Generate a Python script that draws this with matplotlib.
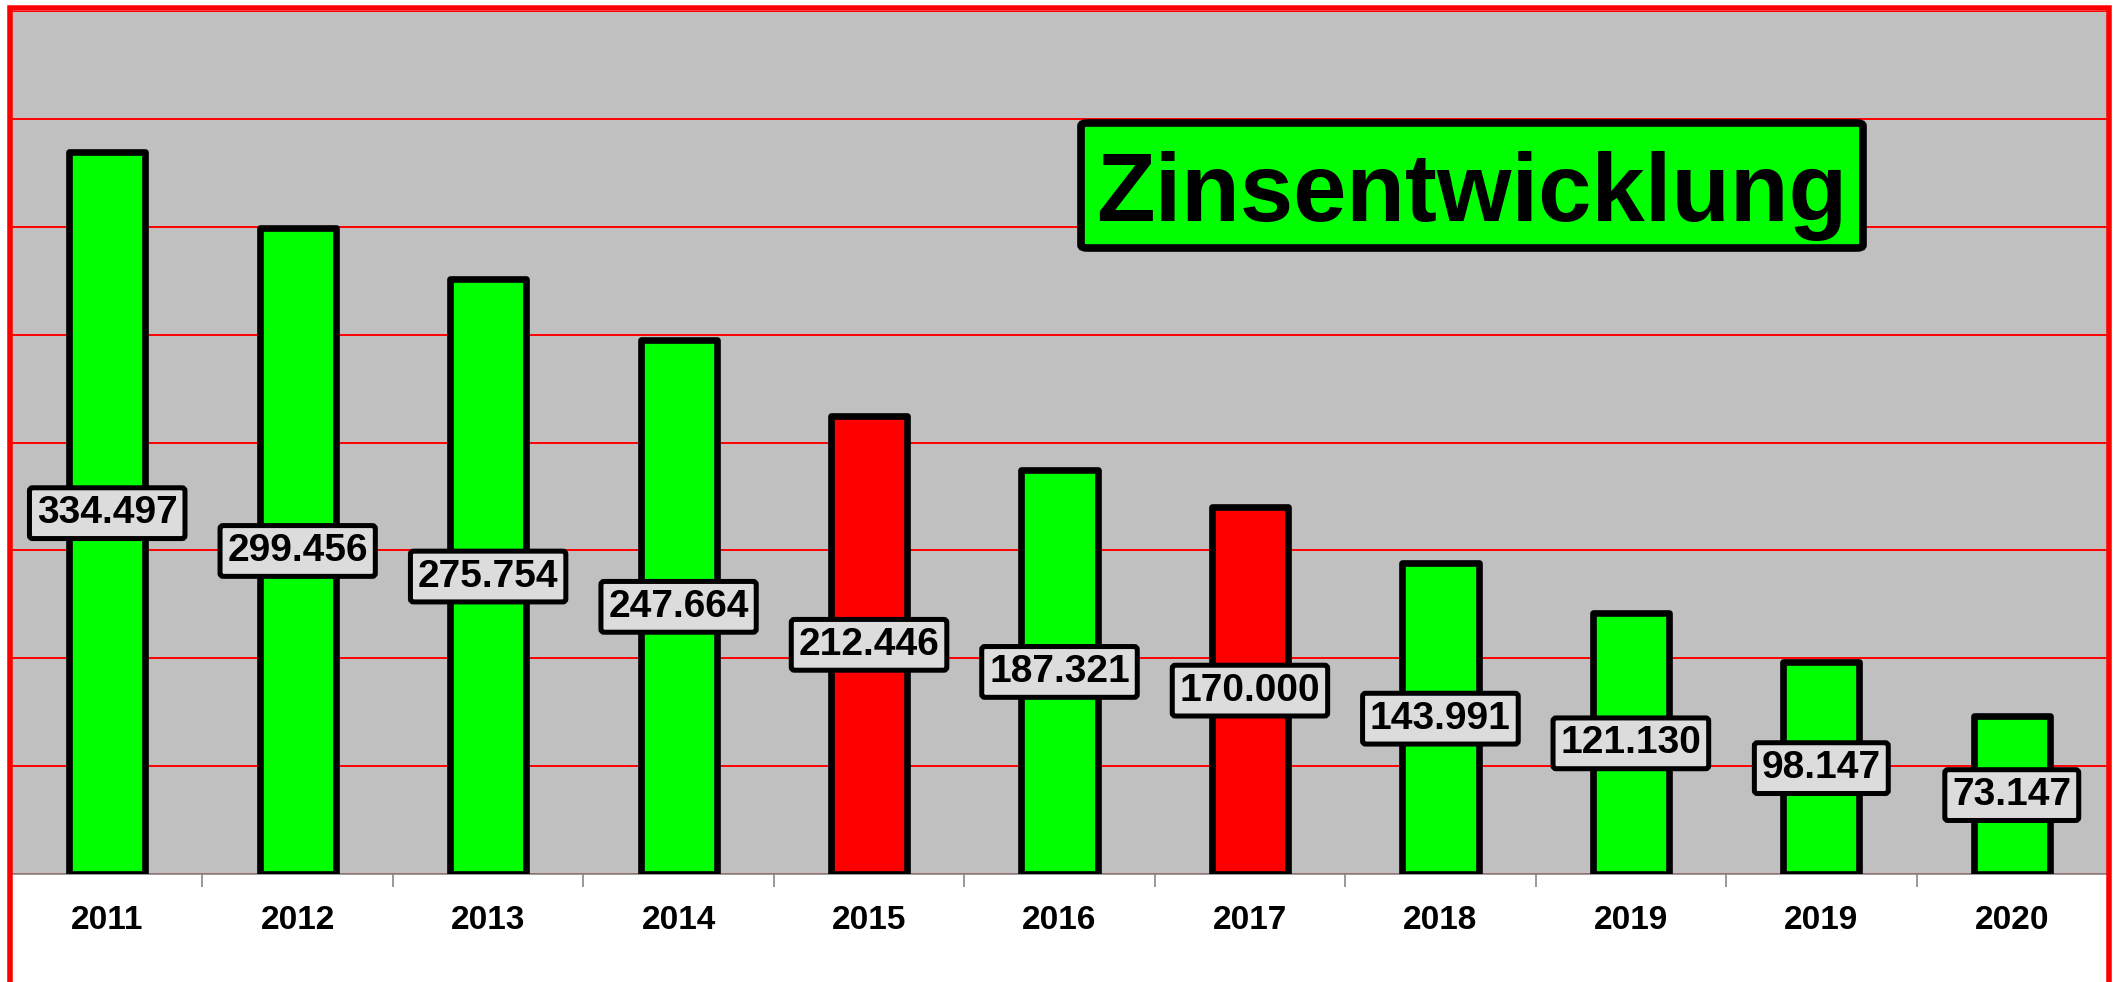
import matplotlib
matplotlib.use("Agg")
import matplotlib.pyplot as plt
from matplotlib.patches import Rectangle, FancyBboxPatch
from matplotlib import font_manager

years = ["2011", "2012", "2013", "2014", "2015", "2016", "2017", "2018", "2019", "2019", "2020"]
values = [334497, 299456, 275754, 247664, 212446, 187321, 170000, 143991, 121130, 98147, 73147]
bar_colors = ["#00ff00", "#00ff00", "#00ff00", "#00ff00", "#ff0000", "#00ff00",
              "#ff0000", "#00ff00", "#00ff00", "#00ff00", "#00ff00"]
title = "Zinsentwicklung"

W, H = 2119, 982
fig = plt.figure(figsize=(W / 100, H / 100), dpi=100)
fig.patch.set_facecolor("white")

names = {f.name for f in font_manager.fontManager.ttflist}
base_font = "Liberation Sans" if "Liberation Sans" in names else "DejaVu Sans"

ax = fig.add_axes([12 / W, (H - 874) / H, 2095 / W, 863 / H])
ax.set_facecolor("#c0c0c0")
ax.set_xlim(-0.5, len(values) - 0.5)
ax.set_ylim(0, 400000)
ax.set_yticks(range(0, 400001, 50000))
ax.yaxis.grid(True, color="#ff0000", linewidth=1.4)
ax.set_axisbelow(True)
ax.tick_params(axis="y", left=False, labelleft=False)

x = list(range(len(values)))
bars = ax.bar(x, values, width=0.40, color=bar_colors, edgecolor="black",
              linewidth=4.8, joinstyle="round", zorder=3)

for xi, v in zip(x, values):
    lbl = f"{v:,}".replace(",", ".")
    ax.text(xi, v / 2, lbl, ha="center", va="center", fontsize=28,
            fontweight="bold", family=base_font, zorder=5,
            bbox=dict(boxstyle="round,pad=0.19,rounding_size=0.08", facecolor="#dcdcdc",
                      edgecolor="black", linewidth=3.6))

for s in ["left", "right", "top"]:
    ax.spines[s].set_visible(False)
ax.spines["bottom"].set_color("#888888")
ax.spines["bottom"].set_linewidth(1.2)

ax.set_xticks([i + 0.5 for i in range(len(values) - 1)])
ax.set_xticklabels([])
ax.tick_params(axis="x", which="major", length=9, width=1.2, color="#888888", direction="out")
ax.set_xticks(x, minor=True)
ax.set_xticklabels(years, minor=True, fontsize=24, fontweight="bold", family=base_font)
ax.tick_params(axis="x", which="minor", length=0, pad=22)

# Title box
bx0, bx1, by0, by1 = 1081, 1863, 123, 248
fig.patches.append(FancyBboxPatch((bx0 / W, 1 - by1 / H), (bx1 - bx0) / W, (by1 - by0) / H,
                                  boxstyle="round,pad=0,rounding_size=0.003",
                                  transform=fig.transFigure, facecolor="#00ff00",
                                  edgecolor="black", linewidth=5.5, zorder=10))
fig.text((bx0 + bx1) / 2 / W, 1 - 221 / H, title, ha="center", va="baseline",
         fontsize=69, fontweight="bold", family=base_font, zorder=11)

# Outer red border (bottom runs off the image)
fig.patches.append(Rectangle((10 / W, -0.05), (2109 - 10) / W, 1.05 - 8.5 / H,
                             transform=fig.transFigure, fill=False,
                             edgecolor="#ff0000", linewidth=4.0, zorder=12))

fig.savefig("out.png", dpi=100)
